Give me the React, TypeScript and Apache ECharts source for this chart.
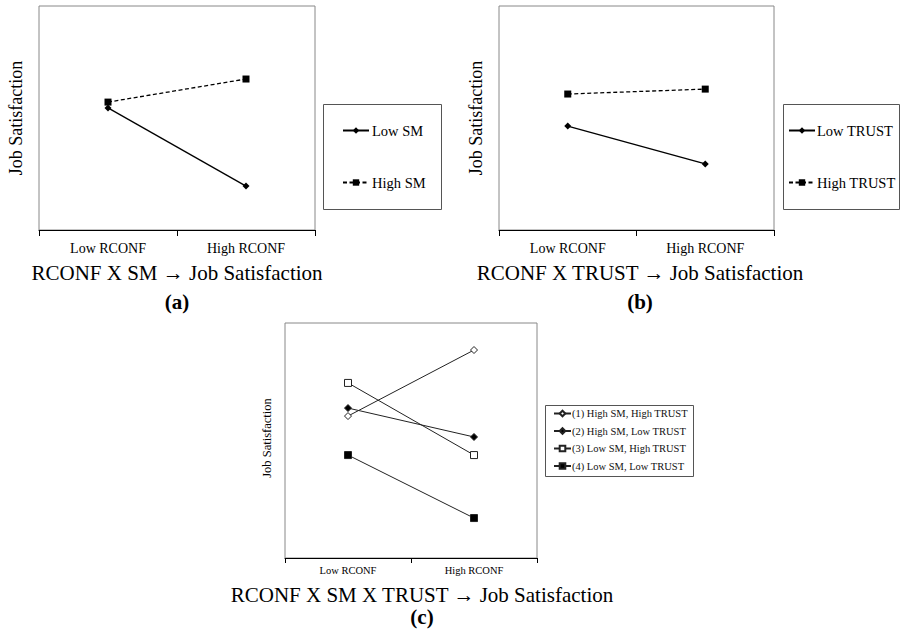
import React, { useEffect, useRef } from "react";
import * as echarts from "echarts";

const categories = ["Low RCONF", "High RCONF"];
// Panel (a)
const lowSM = [54.5, 19.6];
const highSM = [57.1, 67.4];
// Panel (b)
const lowTrust = [46.4, 29.5];
const highTrust = [60.7, 62.9];
// Panel (c)
const hsmHtrust = [60.4, 88.5];
const hsmLtrust = [63.8, 51.5];
const lsmHtrust = [74.5, 43.8];
const lsmLtrust = [43.8, 17.0];

const panelTitles = [
  "RCONF X SM \u2192 Job Satisfaction",
  "RCONF X TRUST \u2192 Job Satisfaction",
  "RCONF X SM X TRUST \u2192 Job Satisfaction",
];
const panelLabels = ["(a)", "(b)", "(c)"];
const yName = "Job Satisfaction";

const FAMILY = "Liberation Serif";

export default function App() {
  const ref = useRef<HTMLDivElement>(null);
  useEffect(() => {
    if (!ref.current) return;
    const chart = echarts.init(ref.current, undefined, { renderer: "svg" });

    const grids = [
      { left: 39, top: 6, width: 276, height: 224 },
      { left: 499, top: 6, width: 275, height: 224 },
      { left: 285, top: 323, width: 252, height: 235 },
    ];
    const labelSize = [14, 14, 10.5];
    const labelMargin = [11, 11, 7];
    const tickLen = [6, 6, 5];

    const xAxes = grids.map((_, i) => ({
      type: "category",
      gridIndex: i,
      data: categories,
      boundaryGap: true,
      axisLine: { lineStyle: { color: "#000", width: 1 } },
      axisTick: { show: true, length: tickLen[i], lineStyle: { color: "#000" } },
      axisLabel: {
        color: "#000",
        fontFamily: FAMILY,
        fontSize: labelSize[i],
        margin: labelMargin[i],
      },
      splitLine: { show: false },
    }));
    const yAxes = grids.map((_, i) => ({
      type: "value",
      gridIndex: i,
      min: 0,
      max: 100,
      axisLine: { show: false },
      axisTick: { show: false },
      axisLabel: { show: false },
      splitLine: { show: false },
    }));

    const blackLine = (name: string, data: number[], xi: number, symbol: string, dashed: boolean) => ({
      name,
      type: "line",
      xAxisIndex: xi,
      yAxisIndex: xi,
      data,
      symbol,
      symbolSize: 7,
      lineStyle: { color: "#000", width: 1.3, type: dashed ? [4, 2.5] : "solid" },
      itemStyle: { color: "#000" },
    });
    const cLine = (name: string, data: number[], symbol: string, filled: boolean) => ({
      name,
      type: "line",
      xAxisIndex: 2,
      yAxisIndex: 2,
      data,
      symbol,
      symbolSize: 7,
      lineStyle: { color: "#222", width: 1 },
      itemStyle: { color: filled ? "#000" : "#fff", borderColor: "#222", borderWidth: 1 },
    });

    const series = [
      blackLine("Low SM", lowSM, 0, "diamond", false),
      blackLine("High SM", highSM, 0, "rect", true),
      blackLine("Low TRUST", lowTrust, 1, "diamond", false),
      blackLine("High TRUST", highTrust, 1, "rect", true),
      cLine("(1) High SM, High TRUST", hsmHtrust, "diamond", false),
      cLine("(2) High SM, Low TRUST", hsmLtrust, "diamond", true),
      cLine("(3) Low SM, High TRUST", lsmHtrust, "rect", false),
      cLine("(4) Low SM, Low TRUST", lsmLtrust, "rect", true),
    ];

    const legendBase = {
      orient: "vertical",
      selectedMode: false,
      padding: 0,
    };
    const legends = [
      {
        ...legendBase,
        left: 342,
        top: 123,
        itemWidth: 26,
        itemHeight: 8,
        itemGap: 37,
        data: ["Low SM", "High SM"],
        textStyle: { fontFamily: FAMILY, fontSize: 14.5, color: "#000", padding: [0, 0, 0, -2] },
      },
      {
        ...legendBase,
        left: 788,
        top: 123,
        itemWidth: 26,
        itemHeight: 8,
        itemGap: 37,
        data: ["Low TRUST", "High TRUST"],
        textStyle: { fontFamily: FAMILY, fontSize: 14.5, color: "#000", padding: [0, 0, 0, -3] },
      },
      {
        ...legendBase,
        left: 553,
        top: 408,
        itemWidth: 17,
        itemHeight: 7,
        itemGap: 6.5,
        data: [
          "(1) High SM, High TRUST",
          "(2) High SM, Low TRUST",
          "(3) Low SM, High TRUST",
          "(4) Low SM, Low TRUST",
        ],
        textStyle: { fontFamily: FAMILY, fontSize: 10.5, color: "#111", padding: [0, 0, 0, -4] },
      },
    ];

    const titlePos = [
      { x: 177, y: 273, ly: 302 },
      { x: 640, y: 273, ly: 302 },
      { x: 422, y: 595, ly: 617 },
    ];
    const yNamePos = [
      { x: 16, y: 118, size: 18 },
      { x: 476, y: 118, size: 18 },
      { x: 267, y: 438, size: 12.5 },
    ];

    const graphic: any[] = [];
    titlePos.forEach((p, i) => {
      graphic.push({
        type: "text",
        x: p.x,
        y: p.y,
        style: {
          text: panelTitles[i],
          font: `21px "${FAMILY}"`,
          fill: "#000",
          textAlign: "center",
          textVerticalAlign: "middle",
        },
      });
      graphic.push({
        type: "text",
        x: p.x,
        y: p.ly,
        style: {
          text: panelLabels[i],
          font: `bold 21px "${FAMILY}"`,
          fill: "#000",
          textAlign: "center",
          textVerticalAlign: "middle",
        },
      });
    });
    yNamePos.forEach((p) => {
      graphic.push({
        type: "text",
        x: p.x,
        y: p.y,
        rotation: Math.PI / 2,
        style: {
          text: yName,
          font: `${p.size}px "${FAMILY}"`,
          fill: "#000",
          textAlign: "center",
          textVerticalAlign: "middle",
        },
      });
    });
    const boxes = [
      { x: 323, y: 104, w: 118, h: 105 },
      { x: 783, y: 104, w: 116, h: 105 },
      { x: 545, y: 405, w: 148, h: 71 },
    ];
    boxes.forEach((b) => {
      graphic.push({
        type: "rect",
        shape: { x: b.x + 0.5, y: b.y + 0.5, width: b.w, height: b.h },
        style: { fill: "none", stroke: "#555", lineWidth: 1 },
        z: -1,
      });
    });

    chart.setOption({
      animation: false,
      backgroundColor: "#fff",
      grid: grids.map((g) => ({
        ...g,
        show: true,
        borderColor: "#888",
        borderWidth: 1,
        backgroundColor: "transparent",
      })),
      xAxis: xAxes,
      yAxis: yAxes,
      legend: legends,
      series,
      graphic,
    });
    return () => chart.dispose();
  }, []);
  return (
    <div
      ref={ref}
      style={{ position: "fixed", left: 0, top: 0, width: 900, height: 636, background: "#fff" }}
    />
  );
}
